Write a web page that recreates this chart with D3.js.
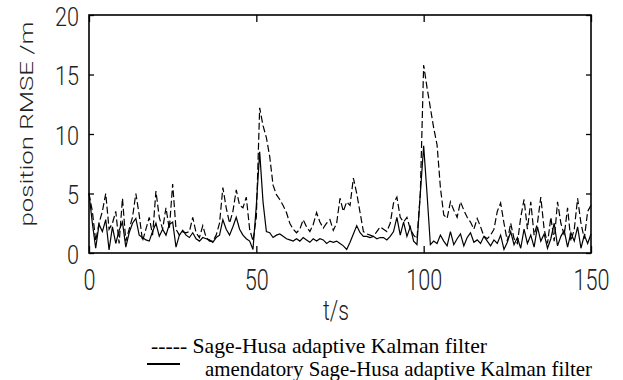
<!DOCTYPE html>
<html>
<head>
<meta charset="utf-8">
<script src="https://cdn.jsdelivr.net/npm/d3@7/dist/d3.min.js"></script>
<style>
  body { margin: 0; background: #fff; }
  svg { display: block; }
</style>
</head>
<body>
<div id="chart"></div>
<script>
const xTicks = [0, 50, 100, 150];
const yTicks = [0, 5, 10, 15, 20];
const xTitle = 't/s';
const yTitle = 'position RMSE /m';
const legendDashed = '----- Sage-Husa adaptive Kalman filter';
const legendSolid = 'amendatory Sage-Husa adaptive Kalman filter';

// position RMSE (m), one value per second from t = 0 to t = 150
const sageHusa = [
  5.0, 3.5, 1.0, 2.5, 3.5, 5.0, 2.0, 2.5, 3.5, 0.8,
  4.6, 1.0, 2.0, 3.0, 5.0, 3.2, 1.0, 2.0, 3.0, 1.5,
  5.2, 3.0, 2.0, 3.8, 2.0, 5.8, 2.0, 1.5, 1.8, 1.7,
  1.8, 3.0, 1.7, 1.3, 2.3, 1.3, 1.0, 1.0, 1.5, 2.5,
  5.5, 3.8, 2.5, 3.5, 5.3, 4.0, 3.8, 4.7, 2.0, 1.0,
  3.0, 12.2, 10.7, 9.7, 8.1, 5.7, 4.9, 4.5, 4.0, 3.4,
  2.5, 2.0, 1.7, 2.0, 2.8, 2.2, 1.8, 2.4, 3.4, 2.6,
  2.1, 2.5, 2.8, 1.9, 2.5, 4.6, 3.5, 4.3, 4.0, 6.3,
  5.0, 3.4, 1.8, 1.6, 1.5, 1.4, 1.8, 2.2, 2.0, 1.8,
  2.5, 4.2, 4.7, 3.0, 2.6, 3.0, 2.0, 1.5, 1.2, 5.0,
  15.8, 13.9, 12.2, 10.5, 9.1, 5.5, 3.2, 2.9, 4.3, 3.6,
  3.0, 4.3, 3.6, 3.0, 2.6, 2.0, 2.9, 2.2, 1.4, 1.2,
  1.5, 2.0, 3.5, 4.2, 2.5, 1.0, 2.5, 1.2, 0.8, 3.0,
  4.5, 2.0, 4.3, 1.5, 2.5, 4.7, 2.0, 0.8, 3.0, 1.0,
  4.3, 2.5, 1.5, 3.8, 1.0, 2.0, 4.6, 2.5, 1.2, 3.5,
  4.0
];

const amendatory = [
  5.0, 2.5, 0.4, 2.4, 1.8, 2.8, 0.25, 2.2, 0.8, 1.9,
  2.6, 0.5, 1.7, 2.5, 2.9, 1.5, 1.3, 1.1, 1.0, 1.8,
  2.5, 1.4, 2.0, 1.5, 2.4, 2.6, 0.5, 1.5, 1.9, 1.5,
  1.3, 1.7, 1.2, 1.0, 1.3, 1.2, 1.1, 0.9, 1.3, 1.5,
  2.8, 2.0, 1.5, 2.2, 3.0, 2.0, 1.5, 1.2, 1.0, 0.3,
  4.0, 8.5, 4.3, 1.8, 1.7, 1.3, 1.5, 1.6, 1.4, 1.2,
  1.1, 1.0, 1.2, 1.0, 1.3, 1.1, 0.9, 1.2, 1.0, 1.2,
  1.1, 0.8, 1.0, 0.9, 1.0, 0.8, 0.6, 0.3, 0.9, 1.6,
  2.3, 1.7, 1.4, 1.4, 1.3, 1.4, 1.2, 1.3, 1.3, 1.1,
  1.4, 1.8, 3.0, 1.5, 2.6, 1.4, 2.2, 1.0, 0.7, 5.0,
  9.0, 5.0, 0.7, 1.0, 0.8, 1.5, 1.0, 0.6, 1.8, 0.7,
  1.2, 1.6, 0.6, 1.3, 1.7, 0.9, 1.1, 0.8, 1.4, 1.0,
  0.6, 1.1, 0.8, 1.5, 0.3, 0.9, 1.8, 0.7, 1.3, 0.4,
  2.0, 0.8, 1.5, 0.5, 2.2, 1.0, 1.6, 0.4, 1.2, 2.5,
  0.6, 1.4, 1.9, 0.5, 1.7, 1.0, 2.2, 0.4, 1.5, 0.8,
  1.6
];

const width = 623;
const height = 380;
const margin = { left: 89, top: 15, right: 32, bottom: 127 };
const AXIS_FONT = 'Roboto, "Liberation Sans", Arial, sans-serif';
const DIGIT_WIDTH = 12;

const svg = d3.select('#chart')
  .append('svg')
  .attr('width', width)
  .attr('height', height);

const x = d3.scaleLinear()
  .domain([xTicks[0], xTicks[xTicks.length - 1]])
  .range([margin.left, width - margin.right]);

const y = d3.scaleLinear()
  .domain([yTicks[0], yTicks[yTicks.length - 1]])
  .range([height - margin.bottom, margin.top]);

const line = d3.line()
  .x((d, i) => x(i))
  .y((d) => y(d));

svg.append('path')
  .datum(sageHusa)
  .attr('fill', 'none')
  .attr('stroke', '#000')
  .attr('stroke-width', 1.2)
  .attr('stroke-dasharray', '7,3')
  .attr('d', line);

svg.append('path')
  .datum(amendatory)
  .attr('fill', 'none')
  .attr('stroke', '#000')
  .attr('stroke-width', 1.2)
  .attr('d', line);

// matlab style box with inward ticks on every side
const styleAxis = (fontSize) => (g) => {
  g.select('.domain').remove();
  g.selectAll('.tick line').attr('stroke', '#000').attr('stroke-width', 1.3);
  g.selectAll('.tick text')
    .attr('fill', '#222')
    .style('font-family', AXIS_FONT)
    .style('font-weight', 300)
    .style('font-size', `${fontSize}px`)
    .attr('textLength', function() { return this.textContent.length * DIGIT_WIDTH; })
    .attr('lengthAdjust', 'spacingAndGlyphs');
};

svg.append('g')
  .attr('transform', `translate(0,${height - margin.bottom})`)
  .call(d3.axisBottom(x).tickValues(xTicks).tickSizeInner(-7).tickSizeOuter(0).tickPadding(16))
  .call(styleAxis(29));

svg.append('g')
  .attr('transform', `translate(0,${margin.top})`)
  .call(d3.axisTop(x).tickValues(xTicks).tickSizeInner(-7).tickSizeOuter(0).tickFormat(''))
  .call(styleAxis(29));

svg.append('g')
  .attr('transform', `translate(${margin.left},0)`)
  .call(d3.axisLeft(y).tickValues(yTicks).tickSizeInner(-5).tickSizeOuter(0).tickPadding(10))
  .call(styleAxis(26))
  .call((g) => g.selectAll('.tick text').attr('dy', '0.4em'));

svg.append('g')
  .attr('transform', `translate(${width - margin.right},0)`)
  .call(d3.axisRight(y).tickValues(yTicks).tickSizeInner(-5).tickSizeOuter(0).tickFormat(''))
  .call(styleAxis(26));

svg.append('rect')
  .attr('x', margin.left)
  .attr('y', margin.top)
  .attr('width', width - margin.left - margin.right)
  .attr('height', height - margin.top - margin.bottom)
  .attr('fill', 'none')
  .attr('stroke', '#000')
  .attr('stroke-width', 1.6);

svg.append('text')
  .attr('text-anchor', 'middle')
  .attr('transform', 'translate(33,124) rotate(-90)')
  .attr('fill', '#222')
  .style('font-family', AXIS_FONT)
  .style('font-weight', 300)
  .style('font-size', '18px')
  .attr('textLength', 205)
  .attr('lengthAdjust', 'spacingAndGlyphs')
  .text(yTitle);

svg.append('text')
  .attr('text-anchor', 'middle')
  .attr('x', 336)
  .attr('y', 320)
  .attr('fill', '#222')
  .style('font-family', AXIS_FONT)
  .style('font-weight', 300)
  .style('font-size', '27px')
  .attr('textLength', 26)
  .attr('lengthAdjust', 'spacingAndGlyphs')
  .text(xTitle);

// legend, set in a serif face below the axes
const legend = svg.append('g')
  .style('font-family', '"Liberation Serif", "Times New Roman", serif')
  .style('font-size', '21px')
  .attr('fill', '#000');

legend.append('text')
  .attr('x', 151)
  .attr('y', 353)
  .attr('textLength', 336)
  .attr('lengthAdjust', 'spacingAndGlyphs')
  .text(legendDashed);

legend.append('line')
  .attr('x1', 147)
  .attr('x2', 180)
  .attr('y1', 364)
  .attr('y2', 364)
  .attr('stroke', '#000')
  .attr('stroke-width', 2);

legend.append('text')
  .attr('x', 205)
  .attr('y', 376)
  .attr('textLength', 387)
  .attr('lengthAdjust', 'spacingAndGlyphs')
  .text(legendSolid);
</script>
</body>
</html>
